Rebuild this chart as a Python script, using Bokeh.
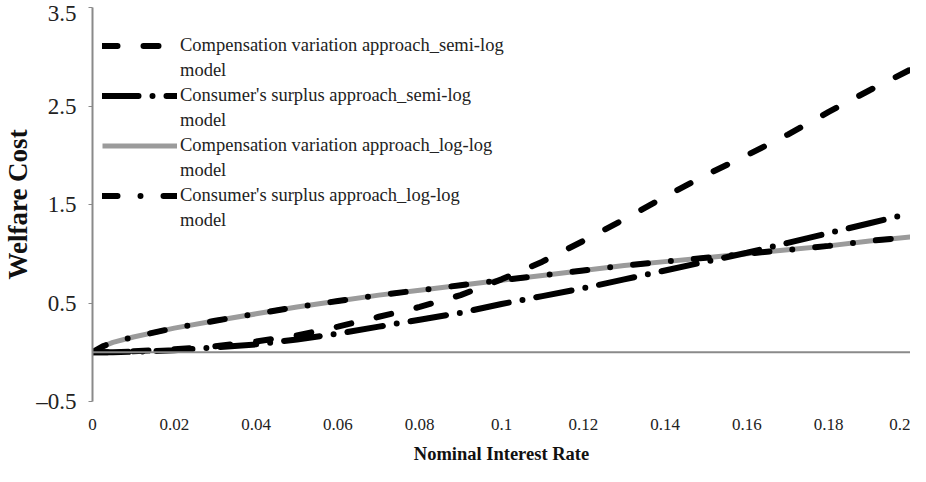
from bokeh.plotting import figure
from bokeh.models import Legend, LegendItem, FixedTicker, Range1d, Span
from bokeh.embed import file_html
from bokeh.resources import INLINE

rate = [0.0, 0.0025, 0.005, 0.01, 0.02, 0.03, 0.04, 0.05, 0.06, 0.07, 0.08, 0.09, 0.10,
        0.11, 0.12, 0.13, 0.14, 0.15, 0.16, 0.17, 0.18, 0.19, 0.20]
cv_semilog = [0.0, 0.0, 0.002, 0.01, 0.03, 0.06, 0.11, 0.17, 0.26, 0.36, 0.46, 0.58, 0.74,
              0.92, 1.13, 1.35, 1.58, 1.80, 2.00, 2.21, 2.44, 2.66, 2.87]
cs_semilog = [0.0, 0.0, 0.001, 0.005, 0.02, 0.05, 0.08, 0.13, 0.19, 0.26, 0.33, 0.40, 0.49,
              0.57, 0.65, 0.74, 0.83, 0.92, 1.01, 1.11, 1.21, 1.31, 1.41]
cv_loglog = [0.0, 0.06, 0.10, 0.155, 0.245, 0.32, 0.39, 0.46, 0.52, 0.58, 0.63, 0.68, 0.73,
             0.78, 0.83, 0.88, 0.92, 0.96, 1.00, 1.04, 1.08, 1.13, 1.17]
cs_loglog = [0.0, 0.06, 0.10, 0.155, 0.245, 0.32, 0.39, 0.46, 0.52, 0.58, 0.63, 0.68, 0.73,
             0.78, 0.83, 0.88, 0.92, 0.96, 1.00, 1.04, 1.08, 1.13, 1.17]

legend_first_lines = [
    "Compensation variation approach_semi-log",
    "Consumer's surplus approach_semi-log",
    "Compensation variation approach_log-log",
    "Consumer's surplus approach_log-log",
]
legend_second_line = "model"
x_title = "Nominal Interest Rate"
y_title = "Welfare Cost"
x_ticks = [0.0, 0.02, 0.04, 0.06, 0.08, 0.10, 0.12, 0.14, 0.16, 0.18, 0.20]
x_tick_labels = ["0", "0.02", "0.04", "0.06", "0.08", "0.1", "0.12", "0.14", "0.16", "0.18", "0.2"]
y_ticks = [-0.5, 0.5, 1.5, 2.5, 3.5]
y_tick_labels = ["\u20130.5", "0.5", "1.5", "2.5", "3.5"]

FONT = "Liberation Serif"
AX = "#8a8a8a"

p = figure(width=910, height=466, x_range=Range1d(0, 0.2), y_range=Range1d(-0.5, 3.5),
           output_backend="svg", toolbar_location=None,
           min_border_left=89, min_border_top=7, min_border_right=0, min_border_bottom=59)
p.outline_line_color = None
p.xgrid.visible = False
p.ygrid.visible = False
p.background_fill_color = "white"

# horizontal axis line at y = 0
p.add_layout(Span(location=0, dimension="width", line_color=AX, line_width=2))

r3 = p.line(rate, cv_loglog, line_color="#9b9b9b", line_width=5)
r1 = p.line(rate, cv_semilog, line_color="black", line_width=6, line_dash="15 26", line_cap="round")
r2 = p.line(rate, cs_semilog, line_color="black", line_width=6, line_dash="36 14 0 14", line_cap="round")
r4 = p.line(rate, cs_loglog, line_color="black", line_width=6, line_dash="15 23 0 23", line_cap="round")

# y axis
ya = p.yaxis[0]
ya.ticker = FixedTicker(ticks=y_ticks)
ya.major_label_overrides = {t: l for t, l in zip(y_ticks, y_tick_labels)}
ya.axis_line_color = AX
ya.axis_line_width = 2
ya.major_tick_line_color = AX
ya.major_tick_in = 0
ya.major_tick_out = 4
ya.minor_tick_line_color = None
ya.minor_tick_out = 0
ya.major_label_text_font = FONT
ya.major_label_text_font_size = "23px"
ya.major_label_text_color = "#222222"
ya.major_label_standoff = 12
ya.axis_label = y_title
ya.axis_label_text_font = FONT
ya.axis_label_text_font_style = "bold"
ya.axis_label_text_font_size = "27px"
ya.axis_label_text_color = "#111111"
ya.axis_label_standoff = 0

# x axis (labels at the bottom)
xa = p.xaxis[0]
xa.ticker = FixedTicker(ticks=x_ticks)
xa.major_label_overrides = {t: l for t, l in zip(x_ticks, x_tick_labels)}
xa.axis_line_color = None
xa.major_tick_line_color = None
xa.minor_tick_line_color = None
xa.major_tick_out = 0
xa.minor_tick_out = 0
xa.major_label_text_font = FONT
xa.major_label_text_font_size = "17px"
xa.major_label_text_line_height = 0.8
xa.major_label_text_color = "#222222"
xa.major_label_standoff = 17
xa.axis_label = x_title
xa.axis_label_text_font = FONT
xa.axis_label_text_font_style = "bold"
xa.axis_label_text_font_size = "18.5px"
xa.axis_label_text_line_height = 0.8
xa.axis_label_text_color = "#111111"
xa.axis_label_standoff = 11

renderers = [r1, r2, r3, r4]
items = []
for r, first in zip(renderers, legend_first_lines):
    items.append(LegendItem(label=first, renderers=[r]))
    items.append(LegendItem(label=legend_second_line, renderers=[]))

legend = Legend(items=items, location="top_left")
legend.title = " "
legend.title_text_font_size = "12px"
legend.title_standoff = 4
legend.background_fill_alpha = 0
legend.border_line_color = None
legend.label_text_font = FONT
legend.label_text_font_size = "18.5px"
legend.label_text_color = "#222222"
legend.glyph_width = 75
legend.glyph_height = 21
legend.label_height = 21
legend.label_standoff = 3
legend.spacing = 4
legend.margin = 10
legend.padding = 0
p.add_layout(legend)

open("out.html", "w").write(file_html(p, INLINE))
